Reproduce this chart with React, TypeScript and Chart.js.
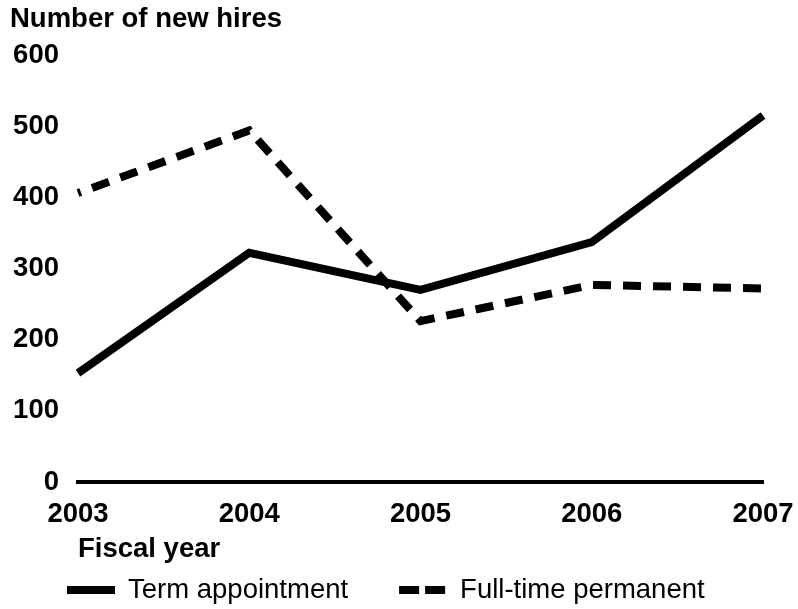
import React, { useEffect, useRef } from "react";
import { Chart, registerables } from "chart.js";

Chart.register(...registerables);

const categories = ["2003", "2004", "2005", "2006", "2007"];
const termAppointment = [153, 322, 270, 337, 515];
const fullTimePermanent = [406, 494, 226, 277, 272];
const yTicks = [0, 100, 200, 300, 400, 500, 600];

const FONT = "'Liberation Sans', Arial, Helvetica, sans-serif";
const FS = 27.5;

const legendPlugin = {
  id: "customLegend",
  afterDraw(chart: any) {
    const ctx = chart.ctx;
    const opts = chart.options.plugins.customLegend || {};
    const startX = opts.x ?? 67;
    const yLine = opts.y ?? 590;
    const gap = opts.gap ?? 50;
    const sample = 48;
    const textGap = 13;
    ctx.save();
    ctx.font = `${FS}px ${FONT}`;
    ctx.fillStyle = "#000";
    ctx.textBaseline = "alphabetic";
    ctx.textAlign = "left";
    let x = startX;
    chart.data.datasets.forEach((ds: any) => {
      ctx.save();
      ctx.strokeStyle = ds.borderColor;
      ctx.lineWidth = 8;
      ctx.lineCap = "butt";
      ctx.setLineDash(ds.legendDash || []);
      ctx.beginPath();
      ctx.moveTo(x, yLine);
      ctx.lineTo(x + sample, yLine);
      ctx.stroke();
      ctx.restore();
      const tx = x + sample + textGap;
      ctx.fillText(ds.label, tx, yLine + 8);
      x = tx + ctx.measureText(ds.label).width + gap;
    });
    ctx.restore();
  },
};

export default function App() {
  const ref = useRef<HTMLCanvasElement>(null);
  useEffect(() => {
    if (!ref.current) return;
    const chart = new Chart(ref.current, {
      type: "line",
      data: {
        labels: categories,
        datasets: [
          {
            label: "Term appointment",
            data: termAppointment,
            borderColor: "#000",
            backgroundColor: "#000",
            borderWidth: 8,
            pointRadius: 0,
            tension: 0,
            fill: false,
            legendDash: [],
          } as any,
          {
            label: "Full-time permanent",
            data: fullTimePermanent,
            borderColor: "#000",
            backgroundColor: "#000",
            borderWidth: 8,
            borderDash: [18, 12],
            borderDashOffset: 15,
            pointRadius: 0,
            tension: 0,
            fill: false,
            legendDash: [20, 6],
          } as any,
        ],
      },
      options: {
        animation: false,
        responsive: true,
        maintainAspectRatio: false,
        layout: { padding: { left: 10, right: 5, top: 0, bottom: 43 } },
        plugins: {
          legend: { display: false },
          tooltip: { enabled: false },
          title: {
            display: true,
            text: "Number of new hires",
            align: "start",
            color: "#000",
            font: { family: FONT, size: FS, weight: "bold" },
            padding: { top: 2.5, bottom: 19.5 },
          },
          customLegend: { x: 67, y: 590, gap: 51 },
        } as any,
        scales: {
          x: {
            type: "category",
            offset: false,
            grid: { display: false, drawTicks: false },
            border: { display: true, width: 4, color: "#000" },
            afterFit: (scale: any) => {
              scale.height = 84;
              scale.paddingRight = 35;
            },
            ticks: {
              color: "#000",
              padding: 16,
              maxRotation: 0,
              font: { family: FONT, size: FS, weight: "bold" },
            },
            title: {
              display: true,
              text: "Fiscal year",
              align: "start",
              color: "#000",
              font: { family: FONT, size: FS, weight: "bold" },
              padding: { top: 4, bottom: 0 },
            },
          },
          y: {
            min: 0,
            max: 600,
            grid: { display: false, drawTicks: false },
            border: { display: false },
            afterFit: (scale: any) => {
              scale.width = 68;
            },
            afterBuildTicks: (scale: any) => {
              scale.ticks = yTicks.map((v) => ({ value: v }));
            },
            ticks: {
              color: "#000",
              padding: 19,
              font: { family: FONT, size: FS, weight: "bold" },
            },
          },
        },
      },
      plugins: [legendPlugin],
    });
    return () => chart.destroy();
  }, []);
  return (
    <div style={{ position: "fixed", left: 0, top: 0, width: 798, height: 609, background: "#fff" }}>
      <canvas ref={ref} />
    </div>
  );
}
